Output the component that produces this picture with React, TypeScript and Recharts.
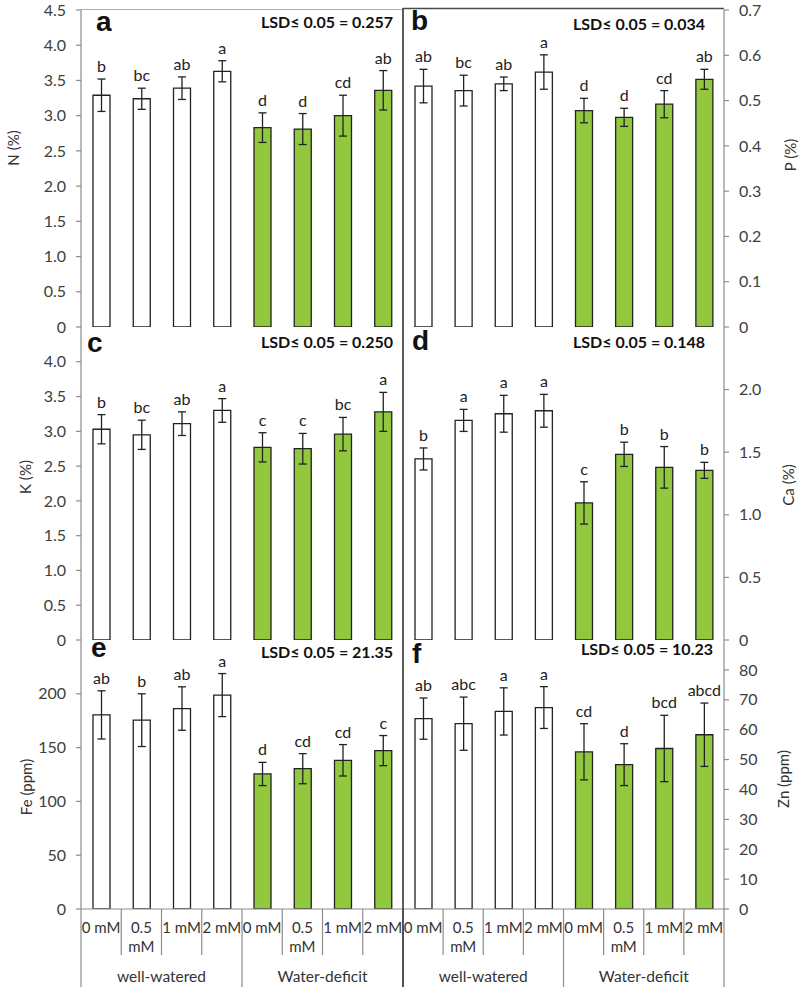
import React from 'react';
import { BarChart, Bar, XAxis, YAxis, ErrorBar, Cell, LabelList } from 'recharts';

const doses = ['0 mM', '0.5 mM', '1 mM', '2 mM'];
const groups = ['well-watered', 'Water-deficit'];

const nVals = [3.29, 3.24, 3.39, 3.63, 2.83, 2.81, 3.0, 3.36];
const nErr = [0.23, 0.15, 0.16, 0.15, 0.21, 0.22, 0.29, 0.28];
const nSig = ['b', 'bc', 'ab', 'a', 'd', 'd', 'cd', 'ab'];

const pVals = [0.532, 0.522, 0.537, 0.563, 0.478, 0.463, 0.492, 0.547];
const pErr = [0.037, 0.034, 0.015, 0.038, 0.027, 0.02, 0.03, 0.022];
const pSig = ['ab', 'bc', 'ab', 'a', 'd', 'd', 'cd', 'ab'];

const kVals = [3.03, 2.95, 3.11, 3.3, 2.77, 2.75, 2.96, 3.28];
const kErr = [0.21, 0.21, 0.17, 0.17, 0.21, 0.22, 0.24, 0.28];
const kSig = ['b', 'bc', 'ab', 'a', 'c', 'c', 'bc', 'a'];

const caVals = [1.446, 1.754, 1.807, 1.831, 1.095, 1.483, 1.379, 1.355];
const caErr = [0.088, 0.088, 0.147, 0.131, 0.169, 0.097, 0.166, 0.064];
const caSig = ['b', 'a', 'a', 'a', 'c', 'b', 'b', 'b'];

const feVals = [180.4, 175.5, 186.3, 198.8, 125.5, 130.4, 138.2, 147.2];
const feErr = [22.4, 24.5, 20.2, 20.0, 10.8, 14.0, 14.6, 14.0];
const feSig = ['ab', 'b', 'ab', 'a', 'd', 'cd', 'cd', 'c'];

const znVals = [63.7, 62.0, 66.1, 67.4, 52.6, 48.3, 53.7, 58.3];
const znErr = [6.9, 8.9, 7.9, 7.0, 9.4, 7.0, 11.1, 10.6];
const znSig = ['ab', 'abc', 'a', 'a', 'cd', 'd', 'bcd', 'abcd'];

const pctTicks = [0, 0.5, 1, 1.5, 2, 2.5, 3, 3.5, 4, 4.5];
const pTicks = [0, 0.1, 0.2, 0.3, 0.4, 0.5, 0.6, 0.7];
const kTicks = [0, 0.5, 1, 1.5, 2, 2.5, 3, 3.5, 4];
const caTicks = [0, 0.5, 1, 1.5, 2];
const feTicks = [0, 50, 100, 150, 200];
const znTicks = [0, 10, 20, 30, 40, 50, 60, 70, 80];

const GREEN = '#92c83e';
const INK = '#222';
const GRAY = '#8c8c8c';
const DARK = '#4a4a4a';
const FONT = 'Lato, "Open Sans", sans-serif';

const ROWS = [[10, 327], [327, 640], [640, 909]];
const COLS = { left: [81, 403], right: [403, 724] };
const PAD = 10;
const AXIS_H = 82;

const oneDec = (v: number) => (v === 0 ? '0' : v.toFixed(1));
const plain = (v: number) => String(v);

const makeData = (vals: number[], errs: number[], sigs: string[]) =>
  vals.map((v, i) => ({
    cat: `${groups[Math.floor(i / 4)]}|${doses[i % 4]}`,
    value: v,
    err: errs[i],
    sig: sigs[i],
  }));

// letters sit just above the error bar cap
const makeSig = (vals: number[], errs: number[]) => (props: any) => {
  const vb = props.viewBox || {};
  const x = props.x ?? vb.x;
  const y = props.y ?? vb.y;
  const w = props.width ?? vb.width;
  const h = props.height ?? vb.height;
  const i = props.index;
  const px = h / vals[i];
  const top = y - errs[i] * px;
  return (
    <text x={x + w / 2} y={top - 7} textAnchor="middle" fontSize={16} fill={INK} fontFamily={FONT}>
      {props.value}
    </text>
  );
};

const makeCatTick = (band: number) => (props: any) => {
  const { x, y, index } = props;
  const half = band / 2;
  const label = doses[index % 4];
  const parts = label.length > 5 ? label.split(' ') : [label];
  return (
    <g>
      <line x1={x - half} x2={x - half} y1={y} y2={y + (index % 4 === 0 ? 78 : 46)} stroke={GRAY} strokeWidth={1.2} />
      {index === 7 && <line x1={x + half} x2={x + half} y1={y} y2={y + 78} stroke={GRAY} strokeWidth={1.2} />}
      {parts.map((p, k) => (
        <text key={k} x={x} y={y + 24 + k * 19} textAnchor="middle" fontSize={15} fill="#333" fontFamily={FONT}>
          {p}
        </text>
      ))}
      {index % 4 === 1 && (
        <text x={x + half} y={y + 73} textAnchor="middle" fontSize={15.5} fill="#333" fontFamily={FONT}>
          {groups[Math.floor(index / 4)]}
        </text>
      )}
    </g>
  );
};

interface PanelProps {
  vals: number[];
  errs: number[];
  sigs: string[];
  max: number;
  ticks: number[];
  fmt: (v: number) => string;
  side: 'left' | 'right';
  row: number;
}

const Panel: React.FC<PanelProps> = ({ vals, errs, sigs, max, ticks, fmt, side, row }) => {
  const [x0, x1] = COLS[side];
  const [y0, y1] = ROWS[row];
  const bottom = row === 2;
  const topPad = row === 0 ? y0 : PAD;
  const divTop = y0 - topPad;
  const divLeft = side === 'left' ? 0 : x0 - PAD;
  const yw = side === 'left' ? x0 : 800 - x1;
  const width = side === 'left' ? x1 + PAD : 800 - divLeft;
  const height = topPad + (y1 - y0) + (bottom ? AXIS_H : PAD);
  const margin =
    side === 'left'
      ? { top: topPad, right: PAD, bottom: bottom ? 0 : PAD, left: 0 }
      : { top: topPad, right: 0, bottom: bottom ? 0 : PAD, left: PAD };
  const band = (x1 - x0) / vals.length;
  const data = makeData(vals, errs, sigs);

  return (
    <div style={{ position: 'absolute', left: divLeft, top: divTop }}>
      <BarChart width={width} height={height} data={data} margin={margin} barCategoryGap={0}>
        <XAxis
          dataKey="cat"
          interval={0}
          height={bottom ? AXIS_H : 0}
          tick={bottom ? makeCatTick(band) : false}
          tickLine={false}
          tickSize={0}
          tickMargin={0}
          axisLine={bottom ? { stroke: GRAY, strokeWidth: 1.2 } : { stroke: DARK, strokeWidth: 1.8 }}
        />
        <YAxis
          orientation={side}
          width={yw}
          domain={[0, max]}
          ticks={ticks}
          interval={0}
          allowDataOverflow
          tickFormatter={fmt}
          tickSize={5}
          tickMargin={10}
          axisLine={{ stroke: GRAY, strokeWidth: 1.2 }}
          tickLine={{ stroke: GRAY, strokeWidth: 1.2 }}
          tick={{ fill: '#404040', fontSize: 16, fontFamily: FONT }}
        />
        <Bar dataKey="value" barSize={17} stroke={INK} strokeWidth={1.3} isAnimationActive={false}>
          {data.map((d, i) => (
            <Cell key={d.cat} fill={i < 4 ? '#ffffff' : GREEN} />
          ))}
          <ErrorBar dataKey="err" width={4} stroke={INK} strokeWidth={1.3} direction="y" />
          <LabelList dataKey="sig" content={makeSig(vals, errs)} />
        </Bar>
      </BarChart>
    </div>
  );
};

const panelText = [
  { letter: 'a', lx: 96, ly: 31, lsd: 'LSD\u2264 0.05 = 0.257', rx: 393, ry: 28 },
  { letter: 'b', lx: 411, ly: 30, lsd: 'LSD\u2264 0.05 = 0.034', rx: 705, ry: 30 },
  { letter: 'c', lx: 87, ly: 352, lsd: 'LSD\u2264 0.05 = 0.250', rx: 393, ry: 348 },
  { letter: 'd', lx: 412, ly: 350, lsd: 'LSD\u2264 0.05 = 0.148', rx: 705, ry: 348 },
  { letter: 'e', lx: 91, ly: 657, lsd: 'LSD\u2264 0.05 = 21.35', rx: 393, ry: 658 },
  { letter: 'f', lx: 412, ly: 663, lsd: 'LSD\u2264 0.05 = 10.23', rx: 713, ry: 655 },
];

const axisTitles = [
  { t: 'N (%)', x: 13, y: 148 },
  { t: 'P (%)', x: 790, y: 155 },
  { t: 'K (%)', x: 25, y: 477 },
  { t: 'Ca (%)', x: 788, y: 485 },
  { t: 'Fe (ppm)', x: 26, y: 787 },
  { t: 'Zn (ppm)', x: 783, y: 779 },
];

export default function App() {
  return (
    <div style={{ position: 'absolute', left: 0, top: 0, width: 800, height: 991, background: '#fff', fontFamily: FONT }}>
      <Panel vals={nVals} errs={nErr} sigs={nSig} max={4.5} ticks={pctTicks} fmt={oneDec} side="left" row={0} />
      <Panel vals={pVals} errs={pErr} sigs={pSig} max={0.7} ticks={pTicks} fmt={oneDec} side="right" row={0} />
      <Panel vals={kVals} errs={kErr} sigs={kSig} max={4.5} ticks={kTicks} fmt={oneDec} side="left" row={1} />
      <Panel vals={caVals} errs={caErr} sigs={caSig} max={2.5} ticks={caTicks} fmt={oneDec} side="right" row={1} />
      <Panel vals={feVals} errs={feErr} sigs={feSig} max={250} ticks={feTicks} fmt={plain} side="left" row={2} />
      <Panel vals={znVals} errs={znErr} sigs={znSig} max={90} ticks={znTicks} fmt={plain} side="right" row={2} />
      <svg width={800} height={991} style={{ position: 'absolute', left: 0, top: 0, pointerEvents: 'none' }}>
        <line x1={81} x2={403} y1={9.5} y2={9.5} stroke="#b0b0b0" strokeWidth={1.2} />
        <line x1={403} x2={724} y1={8.5} y2={8.5} stroke={DARK} strokeWidth={1.5} />
        <line x1={403} x2={403} y1={8} y2={987} stroke={DARK} strokeWidth={1.8} />
        {panelText.map((p) => (
          <g key={p.letter}>
            <text x={p.lx} y={p.ly} fontSize={28} fontWeight="bold" fill="#111" fontFamily="'Liberation Sans', Arial, sans-serif">
              {p.letter}
            </text>
            <text x={p.rx} y={p.ry} textAnchor="end" fontSize={16} fontWeight="bold" fill="#111" fontFamily={FONT}>
              {p.lsd}
            </text>
          </g>
        ))}
        {axisTitles.map((a) => (
          <text
            key={a.t}
            x={a.x}
            y={a.y}
            transform={`rotate(-90 ${a.x} ${a.y})`}
            textAnchor="middle"
            dominantBaseline="central"
            fontSize={15}
            fill="#333"
            fontFamily={FONT}
          >
            {a.t}
          </text>
        ))}
      </svg>
    </div>
  );
}
